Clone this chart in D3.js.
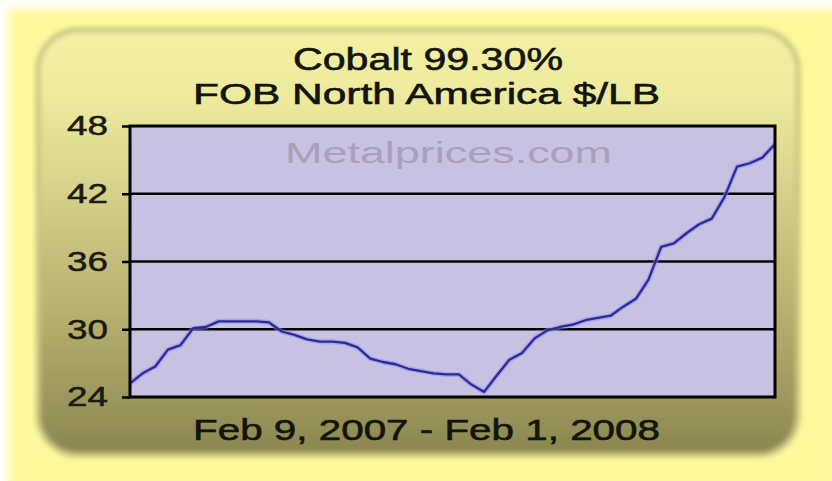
<!DOCTYPE html>
<html>
<head>
<meta charset="utf-8">
<script src="https://cdn.jsdelivr.net/npm/d3@7"></script>
<style>
  body { margin: 0; background: #fff; }
  svg { display: block; }
</style>
</head>
<body>
<div id="chart-container"></div>
<script>
// Weekly cobalt prices
var startDate = "2007-02-09";
var endDate = "2008-02-01";
var prices = [
    25.2, 26.1, 26.7, 28.2, 28.6, 30.1, 30.2, 30.7, 30.7, 30.7,
    30.7, 30.6, 29.8, 29.5, 29.1, 28.9, 28.9, 28.8, 28.4, 27.4,
    27.1, 26.9, 26.5, 26.3, 26.1, 26.0, 26.0, 25.1, 24.45, 25.9,
    27.3, 27.9, 29.2, 29.9, 30.2, 30.4, 30.8, 31.0, 31.2, 32.0,
    32.7, 34.4, 37.3, 37.6, 38.5, 39.3, 39.8, 41.7, 44.4, 44.7,
    45.2, 46.4
];
var yTicks = [24, 30, 36, 42, 48];
var titleLines = ["Cobalt 99.30%", "FOB North America $/LB"];
var rangeLabel = "Feb 9, 2007 - Feb 1, 2008";
var watermark = "Metalprices.com";

var parseDate = d3.timeParse("%Y-%m-%d");
var start = parseDate(startDate);
var data = prices.map(function(p, i) {
    return { date: d3.timeWeek.offset(start, i), price: p };
});

var W = 832, H = 481;
var plot = { left: 130, top: 126, right: 775, bottom: 397 };
var font = "'Liberation Sans', Arial, Helvetica, sans-serif";

var svg = d3.select("#chart-container")
    .append("svg")
    .attr("width", W)
    .attr("height", H);

var defs = svg.append("defs");

var blur = defs.append("filter").attr("id", "soft")
    .attr("x", "-5%").attr("y", "-5%").attr("width", "110%").attr("height", "110%");
blur.append("feGaussianBlur").attr("stdDeviation", 4);

var blur2 = defs.append("filter").attr("id", "soft2")
    .attr("x", "-5%").attr("y", "-5%").attr("width", "110%").attr("height", "110%");
blur2.append("feGaussianBlur").attr("stdDeviation", 2.5);

var panelGrad = defs.append("linearGradient").attr("id", "panelGrad")
    .attr("x1", 0).attr("y1", 0).attr("x2", 0).attr("y2", 1);
[["0%", "#f3f0a3"], ["15%", "#eeea9e"], ["40%", "#d3ce87"],
 ["70%", "#b2ab6b"], ["92%", "#949057"], ["100%", "#8b854f"]]
    .forEach(function(s) {
        panelGrad.append("stop").attr("offset", s[0]).attr("stop-color", s[1]);
    });

// outer pale yellow frame
svg.append("rect")
    .attr("x", 8).attr("y", 9)
    .attr("width", W).attr("height", H)
    .attr("fill", "#fcf89c")
    .attr("filter", "url(#soft)");

// inner rounded panel
svg.append("rect")
    .attr("x", 38).attr("y", 30)
    .attr("width", 760).attr("height", 425)
    .attr("rx", 40).attr("ry", 40)
    .attr("fill", "url(#panelGrad)")
    .attr("stroke", "#c9c47f")
    .attr("stroke-width", 5)
    .attr("filter", "url(#soft2)");

var xScale = d3.scaleTime()
    .domain([start, parseDate(endDate)])
    .range([plot.left, plot.right]);

var yScale = d3.scaleLinear()
    .domain([24, 48])
    .range([plot.bottom, plot.top]);

// plot background
svg.append("rect")
    .attr("x", plot.left).attr("y", plot.top)
    .attr("width", plot.right - plot.left)
    .attr("height", plot.bottom - plot.top)
    .attr("fill", "#c7c2e1");

// watermark
svg.append("text")
    .attr("x", 285).attr("y", 163)
    .attr("textLength", 327)
    .attr("lengthAdjust", "spacingAndGlyphs")
    .style("font-family", font)
    .style("font-size", "30px")
    .attr("fill", "#ab9fb9")
    .text(watermark);

// gridlines
svg.append("g")
    .selectAll("line")
    .data(yTicks.slice(1, -1))
    .enter().append("line")
    .attr("x1", plot.left).attr("x2", plot.right)
    .attr("y1", d => yScale(d)).attr("y2", d => yScale(d))
    .attr("stroke", "#000")
    .attr("stroke-width", 2.5);

// y axis
var yAxis = d3.axisLeft(yScale)
    .tickValues(yTicks)
    .tickSize(8)
    .tickPadding(14);

var gy = svg.append("g")
    .attr("transform", "translate(" + plot.left + ",0)")
    .call(yAxis);
gy.select(".domain").remove();
gy.selectAll(".tick line").attr("stroke", "#000").attr("stroke-width", 2.5);
gy.selectAll(".tick text")
    .style("font-family", font)
    .style("font-size", "28px")
    .attr("fill", "#1a1a10")
    .attr("stroke", "#1a1a10")
    .attr("stroke-width", 0.5)
    .attr("textLength", 41)
    .attr("lengthAdjust", "spacingAndGlyphs");

// price line with a soft halo
var line = d3.line()
    .x(d => xScale(d.date))
    .y(d => yScale(d.price));

svg.append("path")
    .datum(data)
    .attr("fill", "none")
    .attr("stroke", "#8d8cf2")
    .attr("stroke-opacity", 0.55)
    .attr("stroke-width", 5)
    .attr("stroke-linejoin", "round")
    .attr("d", line);

svg.append("path")
    .datum(data)
    .attr("fill", "none")
    .attr("stroke", "#2c2b95")
    .attr("stroke-width", 2.3)
    .attr("stroke-linejoin", "round")
    .attr("d", line);

// plot border
svg.append("rect")
    .attr("x", plot.left).attr("y", plot.top)
    .attr("width", plot.right - plot.left)
    .attr("height", plot.bottom - plot.top)
    .attr("fill", "none")
    .attr("stroke", "#000")
    .attr("stroke-width", 3);

// titles
var titleSpecs = [
    { text: titleLines[0], x: 293, y: 70, len: 270, size: 31 },
    { text: titleLines[1], x: 193, y: 104, len: 467, size: 30 },
    { text: rangeLabel, x: 193, y: 440, len: 467, size: 30 }
];

svg.append("g")
    .selectAll("text")
    .data(titleSpecs)
    .enter().append("text")
    .attr("x", d => d.x)
    .attr("y", d => d.y)
    .attr("textLength", d => d.len)
    .attr("lengthAdjust", "spacingAndGlyphs")
    .style("font-family", font)
    .style("font-size", d => d.size + "px")
    .attr("fill", "#14140c")
    .attr("stroke", "#14140c")
    .attr("stroke-width", 0.6)
    .text(d => d.text);
</script>
</body>
</html>
